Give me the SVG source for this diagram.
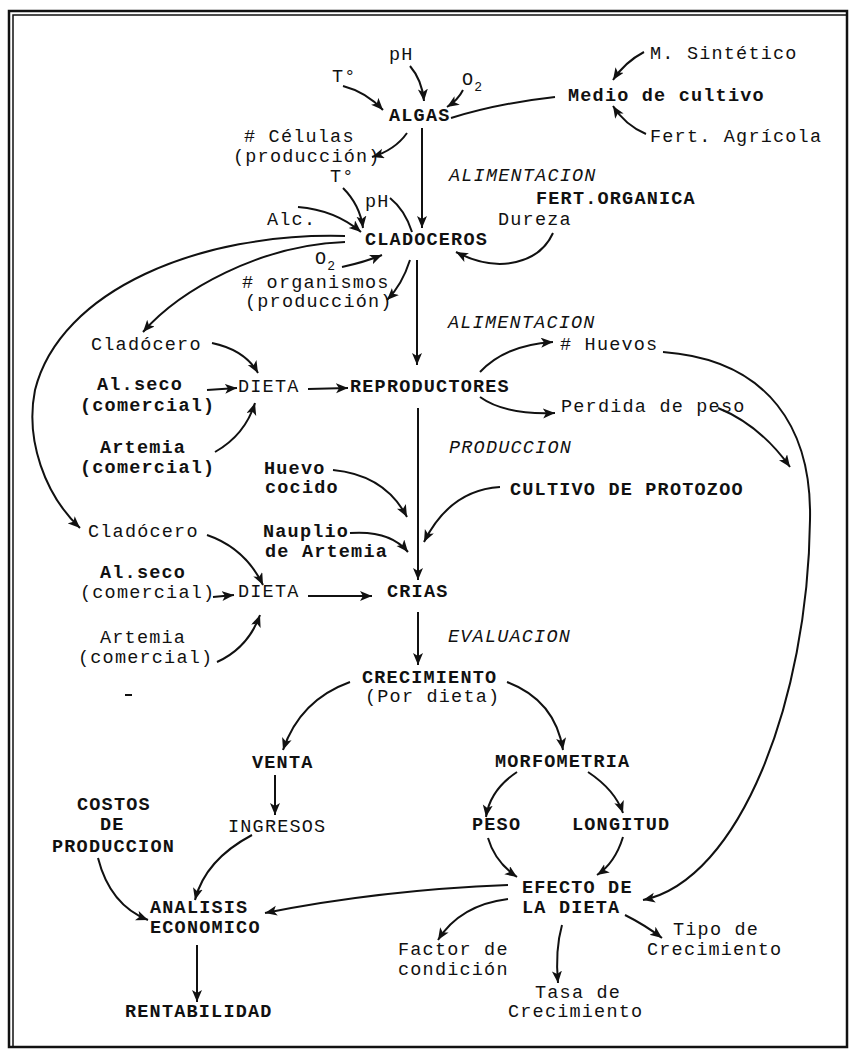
<svg xmlns="http://www.w3.org/2000/svg" width="851" height="1053" viewBox="0 0 851 1053">
<defs>
<marker id="ah" markerUnits="userSpaceOnUse" markerWidth="13" markerHeight="11" refX="12" refY="5" orient="auto">
<path d="M0,0 L12,5 L0,10 L3,5 Z" fill="#111"/>
</marker>
<style>
text{font-family:"Liberation Mono","DejaVu Sans Mono",monospace;font-size:18.5px;letter-spacing:1.2px;fill:#111}
.b{font-weight:bold}
.i{font-style:italic}
.sub{font-size:13px;letter-spacing:0}
.c path{fill:none;stroke:#111;stroke-width:2}
.c .a{marker-end:url(#ah)}
.frame{fill:none;stroke:#111}
</style>
</defs>
<rect width="851" height="1053" fill="#fff"/>
<g id="frame">
<rect class="frame" x="9" y="11" width="838" height="1036" stroke-width="2.5"/>
<path class="frame" d="M13,1047 L13,15 L847,15" stroke-width="1.5"/>
</g>
<g id="connectors" class="c">
<path class="a" d="M343,86 Q366,92 383,110"/>
<path class="a" d="M410,66 Q422,80 424,101"/>
<path class="a" d="M463,90 Q458,100 447,107"/>
<path d="M555,97 Q500,103 451,118"/>
<path class="a" d="M644,52 Q625,62 613,80"/>
<path class="a" d="M646,134 Q625,125 613,106"/>
<path class="a" d="M407,133 Q395,150 372,157"/>
<path class="a" d="M422,128 L422,228"/>
<path class="a" d="M343,188 Q360,205 363,228"/>
<path d="M390,198 Q405,210 412,232"/>
<path class="a" d="M298,207 Q335,210 361,232"/>
<path class="a" d="M553,233 C540,262 500,275 456,252"/>
<path class="a" d="M342,267 Q365,262 382,255"/>
<path class="a" d="M410,260 Q402,285 387,300"/>
<path class="a" d="M417,260 L417,365"/>
<path class="a" d="M345,242 C260,245 180,290 143,332"/>
<path class="a" d="M345,236 C200,232 60,290 35,390 C25,440 45,495 80,528"/>
<path class="a" d="M212,343 Q245,350 258,373"/>
<path class="a" d="M207,390 L237,388"/>
<path class="a" d="M215,452 Q245,435 255,403"/>
<path class="a" d="M308,389 L348,388"/>
<path class="a" d="M480,372 Q505,345 553,342"/>
<path class="a" d="M480,397 Q505,415 555,413"/>
<path class="a" d="M418,408 L418,580"/>
<path class="a" d="M663,352 C770,360 812,430 810,520 C808,700 740,880 643,900"/>
<path class="a" d="M718,408 Q760,425 790,467"/>
<path class="a" d="M333,470 Q385,475 407,517"/>
<path class="a" d="M350,533 Q390,530 408,552"/>
<path class="a" d="M500,487 Q450,490 424,542"/>
<path class="a" d="M207,535 Q245,548 263,585"/>
<path class="a" d="M213,597 L234,595"/>
<path class="a" d="M217,662 Q248,648 260,615"/>
<path class="a" d="M308,596 L372,596"/>
<path class="a" d="M418,612 L418,665"/>
<path class="a" d="M350,682 Q300,700 283,750"/>
<path class="a" d="M507,682 Q555,700 563,750"/>
<path class="a" d="M275,775 L275,815"/>
<path class="a" d="M517,772 Q490,790 486,817"/>
<path class="a" d="M588,772 Q615,790 623,813"/>
<path class="a" d="M488,838 Q495,862 517,877"/>
<path class="a" d="M623,837 Q615,863 597,875"/>
<path class="a" d="M98,858 Q110,905 148,920"/>
<path class="a" d="M252,835 Q205,860 195,900"/>
<path class="a" d="M508,885 Q380,890 265,913"/>
<path class="a" d="M197,945 L197,1002"/>
<path class="a" d="M508,899 Q460,905 438,940"/>
<path class="a" d="M562,925 Q555,950 558,983"/>
<path class="a" d="M625,915 Q645,925 662,938"/>
</g>
<g id="n-ph1"><text x="389" y="60">pH</text></g>
<g id="n-t1"><text x="332" y="82">T°</text></g>
<g id="n-o21"><text x="462" y="85">O<tspan class="sub" dy="6">2</tspan></text></g>
<g id="n-algas"><text class="b" x="389" y="121">ALGAS</text></g>
<g id="n-msint"><text x="650" y="59">M. Sintético</text></g>
<g id="n-medio"><text class="b" x="568" y="101">Medio de cultivo</text></g>
<g id="n-fert"><text x="650" y="142">Fert. Agrícola</text></g>
<g id="n-celulas"><text x="244" y="142"># Células</text><text x="233" y="162">(producción)</text></g>
<g id="n-t2"><text x="330" y="182">T°</text></g>
<g id="n-alim1"><text class="i" x="449" y="181">ALIMENTACION</text></g>
<g id="n-fertorg"><text class="b" x="536" y="204">FERT.ORGANICA</text></g>
<g id="n-ph2"><text x="365" y="207">pH</text></g>
<g id="n-dureza"><text x="498" y="225">Dureza</text></g>
<g id="n-alc"><text x="267" y="225">Alc.</text></g>
<g id="n-clad"><text class="b" x="365" y="245">CLADOCEROS</text></g>
<g id="n-o22"><text x="315" y="264">O<tspan class="sub" dy="6">2</tspan></text></g>
<g id="n-org"><text x="242" y="288"># organismos</text><text x="245" y="307">(producción)</text></g>
<g id="n-alim2"><text class="i" x="448" y="328">ALIMENTACION</text></g>
<g id="n-cladocero1"><text x="91" y="350">Cladócero</text></g>
<g id="n-huevos"><text x="560" y="350"># Huevos</text></g>
<g id="n-alseco1"><text class="b" x="97" y="390">Al.seco</text><text class="b" x="80" y="411">(comercial)</text></g>
<g id="n-dieta1"><text x="238" y="392">DIETA</text></g>
<g id="n-repro"><text class="b" x="350" y="392">REPRODUCTORES</text></g>
<g id="n-perdida"><text x="561" y="412">Perdida de peso</text></g>
<g id="n-artemia1"><text class="b" x="100" y="453">Artemia</text><text class="b" x="80" y="473">(comercial)</text></g>
<g id="n-produccion"><text class="i" x="449" y="453">PRODUCCION</text></g>
<g id="n-huevo"><text class="b" x="264" y="474">Huevo</text><text class="b" x="265" y="493">cocido</text></g>
<g id="n-cultivo"><text class="b" x="510" y="495">CULTIVO DE PROTOZOO</text></g>
<g id="n-cladocero2"><text x="88" y="537">Cladócero</text></g>
<g id="n-nauplio"><text class="b" x="263" y="537">Nauplio</text><text class="b" x="265" y="557">de Artemia</text></g>
<g id="n-alseco2"><text class="b" x="100" y="578">Al.seco</text><text x="80" y="598">(comercial)</text></g>
<g id="n-dieta2"><text x="238" y="597">DIETA</text></g>
<g id="n-crias"><text class="b" x="387" y="597">CRIAS</text></g>
<g id="n-eval"><text class="i" x="448" y="642">EVALUACION</text></g>
<g id="n-artemia2"><text x="100" y="643">Artemia</text><text x="78" y="663">(comercial)</text></g>
<rect x="125" y="694" width="7" height="2" fill="#111"/>
<g id="n-crec"><text class="b" x="362" y="683">CRECIMIENTO</text><text x="365" y="702">(Por dieta)</text></g>
<g id="n-venta"><text class="b" x="252" y="768">VENTA</text></g>
<g id="n-morfo"><text class="b" x="495" y="767">MORFOMETRIA</text></g>
<g id="n-costos"><text class="b" x="77" y="810">COSTOS</text><text class="b" x="100" y="830">DE</text><text class="b" x="52" y="852">PRODUCCION</text></g>
<g id="n-ingresos"><text x="228" y="832">INGRESOS</text></g>
<g id="n-peso"><text class="b" x="472" y="830">PESO</text></g>
<g id="n-longitud"><text class="b" x="572" y="830">LONGITUD</text></g>
<g id="n-efecto"><text class="b" x="522" y="893">EFECTO DE</text><text class="b" x="522" y="913">LA DIETA</text></g>
<g id="n-analisis"><text class="b" x="150" y="913">ANALISIS</text><text class="b" x="150" y="933">ECONOMICO</text></g>
<g id="n-factor"><text x="398" y="955">Factor de</text><text x="398" y="975">condición</text></g>
<g id="n-tipo"><text x="673" y="935">Tipo de</text><text x="647" y="955">Crecimiento</text></g>
<g id="n-tasa"><text x="535" y="998">Tasa de</text><text x="508" y="1017">Crecimiento</text></g>
<g id="n-rent"><text class="b" x="125" y="1017">RENTABILIDAD</text></g>
</svg>
